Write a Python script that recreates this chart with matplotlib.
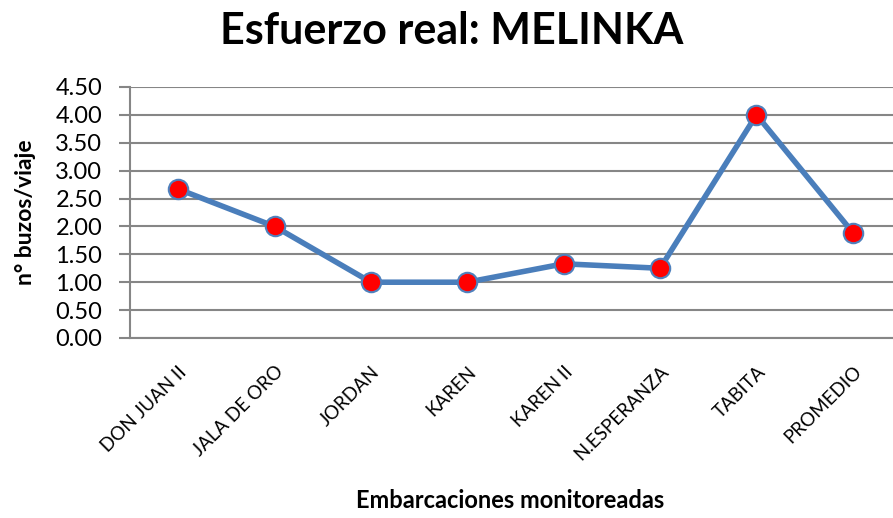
import matplotlib.pyplot as plt

# data
boats = ['DON JUAN II', 'JALA DE ORO', 'JORDAN', 'KAREN', 'KAREN II',
         'N.ESPERANZA', 'TABITA', 'PROMEDIO']
divers_per_trip = [2.67, 2.00, 1.00, 1.00, 1.33, 1.25, 4.00, 1.89]
y_ticks = [0, 0.5, 1, 1.5, 2, 2.5, 3, 3.5, 4, 4.5]

plt.rcParams['font.family'] = ['Lato', 'DejaVu Sans']

fig = plt.figure(figsize=(8.93, 5.18), dpi=100)
ax = fig.add_axes([0.1456, 0.3475, 0.8634, 0.4846])

x = range(len(boats))
ax.plot(x, divers_per_trip, color='#4A7EBB', linewidth=4, marker='o',
        markersize=14, markerfacecolor='#FF0000', markeredgecolor='#4F81BD',
        markeredgewidth=1.5, zorder=3)

ax.set_xlim(-0.5, len(boats) - 0.5)
ax.set_ylim(0, 4.5)
ax.set_yticks(y_ticks)
ax.set_yticklabels(['%.2f' % v for v in y_ticks], fontsize=17)
ax.set_xticks(list(x))
ax.set_xticklabels(boats, rotation=45, ha='right', rotation_mode='anchor',
                   fontsize=13.5)

ax.grid(axis='y', color='#868686', linewidth=1.5)
ax.set_axisbelow(True)
for side in ['top', 'right']:
    ax.spines[side].set_visible(False)
ax.spines['left'].set_color('#868686')
ax.spines['left'].set_linewidth(1.5)
ax.spines['bottom'].set_color('#868686')
ax.spines['bottom'].set_linewidth(1.5)
ax.tick_params(axis='y', length=8, width=1.5, color='#868686', pad=12)
ax.tick_params(axis='x', length=0, pad=18)

ax.set_ylabel('n° buzos/viaje', fontsize=16.5, fontweight='bold', labelpad=14)
fig.text(0.571, 0.02, 'Embarcaciones monitoreadas', fontsize=17,
         fontweight='bold', ha='center')
fig.text(0.506, 0.915, 'Esfuerzo real: MELINKA', fontsize=31,
         fontweight='bold', ha='center')

fig.savefig('out.png', dpi=100)
